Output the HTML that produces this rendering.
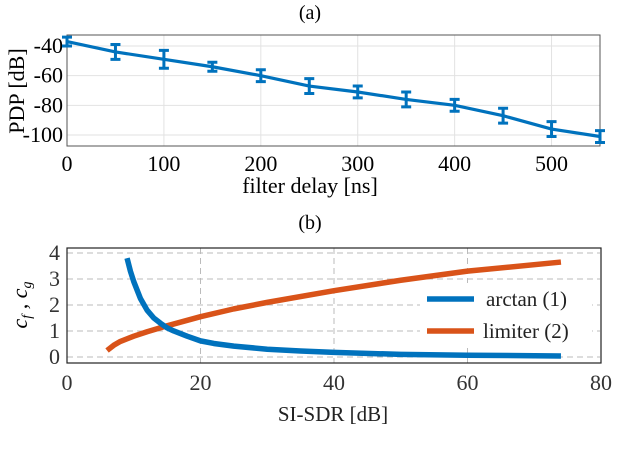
<!DOCTYPE html>
<html><head><meta charset="utf-8"><style>
body{margin:0;background:#fff}
svg{display:block;font-family:"Liberation Serif",serif}
</style></head><body>
<svg id="c" width="620" height="452" viewBox="0 0 620 452">
<text x="310" y="19" font-size="20" text-anchor="middle">(a)</text>
<text x="310" y="229" font-size="20" text-anchor="middle">(b)</text>
<g id="ga"></g>
<g id="gb"></g>
</svg>
<script>
const delays=[0,50,100,150,200,250,300,350,400,450,500,550];
const pdp=[-37,-44,-49,-54,-60,-67,-71,-76,-80,-87,-96,-101];
const pdpErr=[3,5,6,3,4,5,4,5,4,5,5,4];
const xTicksA=[0,100,200,300,400,500];
const yTicksA=[-40,-60,-80,-100];
const arctanX=[9,9.5,10,11,12,13,14,15,16,18,20,22,25,30,35,40,50,60,74];
const arctanY=[3.8,3.3,2.9,2.25,1.8,1.5,1.3,1.12,1.0,0.8,0.62,0.52,0.42,0.3,0.23,0.18,0.1,0.07,0.04];
const limX=[6,7,8,10,12,15,20,25,30,40,50,60,74];
const limY=[0.25,0.45,0.6,0.8,0.97,1.2,1.55,1.85,2.1,2.55,2.95,3.3,3.65];
const xTicksB=[0,20,40,60,80];
const yTicksB=[0,1,2,3,4];
const NS='http://www.w3.org/2000/svg';
function mk(p,t,a){const e=document.createElementNS(NS,t);for(const k in a)e.setAttribute(k,a[k]);p.appendChild(e);return e;}
const ga=document.getElementById('ga');
const L=67,R=600,Ta=35,Ba=146;
const xa=v=>L+(v-0)/(550-0)*(R-L);
const ya=v=>Ta+(-32.6-v)/(-32.6+107.4)*(Ba-Ta);
let e;
xTicksA.forEach(v=>{e=mk(ga,'line',{x1:xa(v),x2:xa(v),y1:Ta,y2:Ba,stroke:'#e2e2e2','stroke-width':1});

e=mk(ga,'text',{x:xa(v),y:171,'font-size':22,'text-anchor':'middle'});e.textContent=v;
});
yTicksA.forEach(v=>{e=mk(ga,'line',{x1:L,x2:R,y1:ya(v),y2:ya(v),stroke:'#e2e2e2','stroke-width':1});

e=mk(ga,'text',{x:L-4,y:ya(v)+7,'font-size':22,'text-anchor':'end'});e.textContent=v;
});
e=mk(ga,'rect',{x:L,y:Ta,width:R-L,height:Ba-Ta,fill:'none',stroke:'#555','stroke-width':1});

e=mk(ga,'polyline',{points:delays.map((d,i)=>xa(d)+','+ya(pdp[i])).join(' '),fill:'none',stroke:'#0072BD','stroke-width':3.2});

delays.forEach((d,i)=>{const x=xa(d),y1=ya(pdp[i]+pdpErr[i]),y2=ya(pdp[i]-pdpErr[i]);
e=mk(ga,'path',{d:`M${x},${y1}V${y2}M${x-5},${y1}H${x+5}M${x-5},${y2}H${x+5}`,stroke:'#0072BD','stroke-width':3,fill:'none'});
});
e=mk(ga,'text',{x:310,y:193,'font-size':22,'text-anchor':'middle'});e.textContent='filter delay [ns]';

e=mk(ga,'text',{x:0,y:0,'font-size':22,'text-anchor':'middle',transform:'translate(24,91) rotate(-90)'});e.textContent='PDP [dB]';

const gb=document.getElementById('gb');
const Tb=248,Bb=363;
const xb=v=>L+v/80*(R+1-L);
const yb=v=>Tb+(4.19-v)/(4.19+0.23)*(Bb-Tb);
xTicksB.forEach(v=>{e=mk(gb,'line',{x1:xb(v),x2:xb(v),y1:Tb,y2:Bb,stroke:'#bbb','stroke-width':1,'stroke-dasharray':'6,4'});

e=mk(gb,'text',{x:xb(v),y:390,'font-size':22,'text-anchor':'middle',fill:'#333'});e.textContent=v;
});
yTicksB.forEach(v=>{e=mk(gb,'line',{x1:L,x2:R,y1:yb(v),y2:yb(v),stroke:'#bbb','stroke-width':1,'stroke-dasharray':'6,4'});

e=mk(gb,'text',{x:L-7,y:yb(v)+7,'font-size':22,'text-anchor':'end',fill:'#333'});e.textContent=v;
});
e=mk(gb,'rect',{x:L,y:Tb,width:R-L+1,height:Bb-Tb,fill:'none',stroke:'#222','stroke-width':1.2});

e=mk(gb,'polyline',{points:limX.map((d,i)=>xb(d)+','+yb(limY[i])).join(' '),fill:'none',stroke:'#D95319','stroke-width':5.5,'stroke-linejoin':'round'});

e=mk(gb,'polyline',{points:arctanX.map((d,i)=>xb(d)+','+yb(arctanY[i])).join(' '),fill:'none',stroke:'#0072BD','stroke-width':5.5,'stroke-linejoin':'round'});

e=mk(gb,'rect',{x:420,y:283,width:172,height:64,fill:'#fff'});

e=mk(gb,'line',{x1:427,x2:474,y1:299,y2:299,stroke:'#0072BD','stroke-width':5.5});

e=mk(gb,'text',{x:486,y:306,'font-size':21,fill:'#222'});e.textContent='arctan (1)';

e=mk(gb,'line',{x1:427,x2:474,y1:331,y2:331,stroke:'#D95319','stroke-width':5.5});

e=mk(gb,'text',{x:483,y:338,'font-size':21,fill:'#222'});e.textContent='limiter (2)';

e=mk(gb,'text',{x:333,y:421,'font-size':21,'text-anchor':'middle',fill:'#222'});e.textContent='SI-SDR [dB]';

e=mk(gb,'text',{x:0,y:0,'font-size':22,'text-anchor':'middle','font-style':'italic',transform:'translate(27,305) rotate(-90)'});
e.innerHTML='c<tspan font-size="14" dy="4">f</tspan><tspan dy="-4"> , c</tspan><tspan font-size="14" dy="4">g</tspan>';

</script>
</body></html>
